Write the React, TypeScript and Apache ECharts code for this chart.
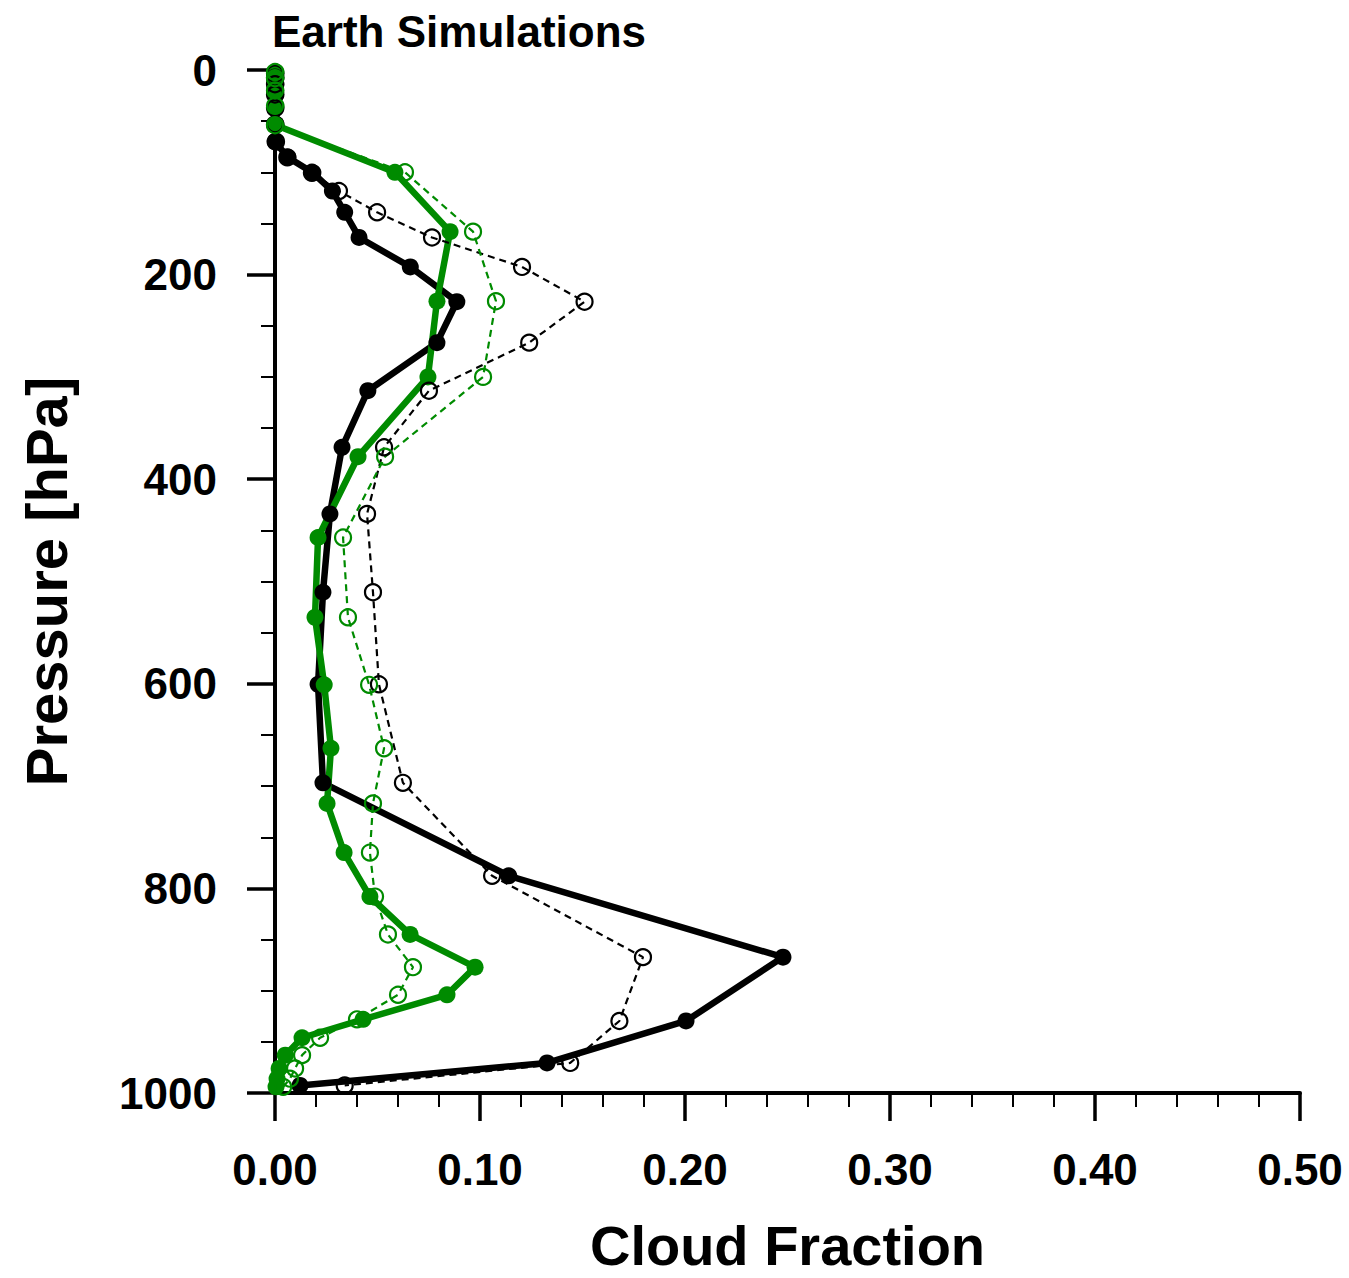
import React, { useEffect, useRef } from "react";
import * as echarts from "echarts";

// Pressure levels (hPa)
const camLevels = [3.5, 7.4, 13.9, 23.9, 37.2, 53.1, 70.1, 85.4, 100.5, 118.3, 139.1, 163.7, 192.5, 226.5, 266.5, 313.5, 368.8, 433.9, 510.5, 600.5, 696.8, 787.7, 867.2, 929.6, 970.6, 992.6];
const greenLevels = [2, 8, 20, 35, 54, 100, 158, 226, 300, 378, 457, 535, 601, 663, 717, 765, 808, 845, 877, 904, 928, 946, 963, 976, 986, 994];

// Cloud fraction values
const blackSolid = [0.0005, 0.0005, 0.0005, 0.0005, 0.0005, 0.0005, 0, 0.0063, 0.0185, 0.028, 0.034, 0.041, 0.066, 0.0887, 0.079, 0.0453, 0.0327, 0.0268, 0.0234, 0.021, 0.0234, 0.114, 0.2478, 0.2005, 0.1327, 0.0122];
const blackDashed = [0, 0, 0, 0, 0, 0, 0.0005, 0.006, 0.018, 0.0312, 0.0498, 0.0766, 0.1205, 0.151, 0.124, 0.0751, 0.0532, 0.0449, 0.0478, 0.0507, 0.0624, 0.1059, 0.1795, 0.168, 0.144, 0.034];
const greenSolid = [0.0005, 0.0005, 0.0005, 0.0005, 0.0005, 0.0585, 0.0854, 0.079, 0.0746, 0.0405, 0.021, 0.0195, 0.024, 0.0273, 0.0254, 0.0337, 0.0463, 0.0659, 0.0976, 0.0839, 0.043, 0.0132, 0.005, 0.002, 0.001, 0.0005];
const greenDashed = [0, 0, 0, 0, 0, 0.0634, 0.0966, 0.1078, 0.1015, 0.0537, 0.0332, 0.0356, 0.0459, 0.0532, 0.0478, 0.0463, 0.0488, 0.0551, 0.0673, 0.06, 0.04, 0.022, 0.0132, 0.0098, 0.0073, 0.004];

const xTickLabels = ["0.00", "0.10", "0.20", "0.30", "0.40", "0.50"];
const yTickLabels = ["0", "200", "400", "600", "800", "1000"];

const FONT = "Liberation Sans, Arial, Helvetica, sans-serif";
const GREEN = "#008b00";

function pairs(xs: number[], ps: number[]) {
  return xs.map((v, i) => [v, ps[i]]);
}

export default function App() {
  const ref = useRef<HTMLDivElement>(null);
  useEffect(() => {
    if (!ref.current) return;
    const chart = echarts.init(ref.current, undefined, { renderer: "svg" });
    const solid = (name: string, data: number[][], color: string) => ({
      name,
      type: "line",
      data,
      clip: false,
      symbol: "circle",
      symbolSize: 17,
      showSymbol: true,
      itemStyle: { color },
      lineStyle: { color, width: 6.5, join: "round", cap: "round" },
      emphasis: { disabled: true },
    });
    const dashed = (name: string, data: number[][], color: string) => ({
      name,
      type: "line",
      data,
      clip: false,
      symbol: "circle",
      symbolSize: 16,
      showSymbol: true,
      itemStyle: { color: "rgba(0,0,0,0)", borderColor: color, borderWidth: 2.2 },
      lineStyle: { color, width: 2.2, type: [7, 5] },
      emphasis: { disabled: true },
    });
    chart.setOption({
      animation: false,
      backgroundColor: "#fff",
      title: {
        text: "Earth Simulations",
        left: 272,
        top: 9,
        padding: 0,
        textStyle: { fontFamily: FONT, fontWeight: "bold", fontSize: 44, color: "#000" },
      },
      grid: { left: 275, right: 49, top: 70, bottom: 185, containLabel: false, outerBoundsMode: "none" },
      xAxis: {
        type: "value",
        min: 0,
        max: 0.5,
        interval: 0.1,
        axisLine: { show: true, onZero: false, lineStyle: { color: "#000", width: 4 } },
        axisTick: { show: true, length: 28, lineStyle: { color: "#000", width: 3.5 } },
        minorTick: { show: true, splitNumber: 5, length: 14, lineStyle: { color: "#000", width: 2 } },
        splitLine: { show: false },
        axisLabel: {
          formatter: (_v: number, i: number) => xTickLabels[i],
          fontFamily: FONT,
          fontWeight: "bold",
          fontSize: 44,
          color: "#000",
          margin: 54,
        },
        name: "Cloud Fraction",
        nameLocation: "middle",
        nameGap: 129,
        nameTextStyle: { fontFamily: FONT, fontWeight: "bold", fontSize: 56, lineHeight: 46, color: "#000" },
      },
      yAxis: {
        type: "value",
        inverse: true,
        min: 0,
        max: 1000,
        interval: 200,
        axisLine: { show: true, onZero: false, lineStyle: { color: "#000", width: 4 } },
        axisTick: { show: true, length: 28, lineStyle: { color: "#000", width: 3.5 } },
        minorTick: { show: true, splitNumber: 4, length: 14, lineStyle: { color: "#000", width: 2 } },
        splitLine: { show: false },
        axisLabel: {
          formatter: (_v: number, i: number) => yTickLabels[i],
          fontFamily: FONT,
          fontWeight: "bold",
          fontSize: 44,
          color: "#000",
          margin: 58,
        },
        name: "Pressure [hPa]",
        nameLocation: "middle",
        nameGap: 200,
        nameTextStyle: { fontFamily: FONT, fontWeight: "bold", fontSize: 58, color: "#000" },
      },
      series: [
        solid("Black solid", pairs(blackSolid, camLevels), "#000"),
        solid("Green solid", pairs(greenSolid, greenLevels), GREEN),
        dashed("Black dashed", pairs(blackDashed, camLevels), "#000"),
        dashed("Green dashed", pairs(greenDashed, greenLevels), GREEN),
      ],
    });
    return () => chart.dispose();
  }, []);
  return (
    <div
      ref={ref}
      style={{ position: "absolute", left: 0, top: 0, width: 1349, height: 1278 }}
    />
  );
}
